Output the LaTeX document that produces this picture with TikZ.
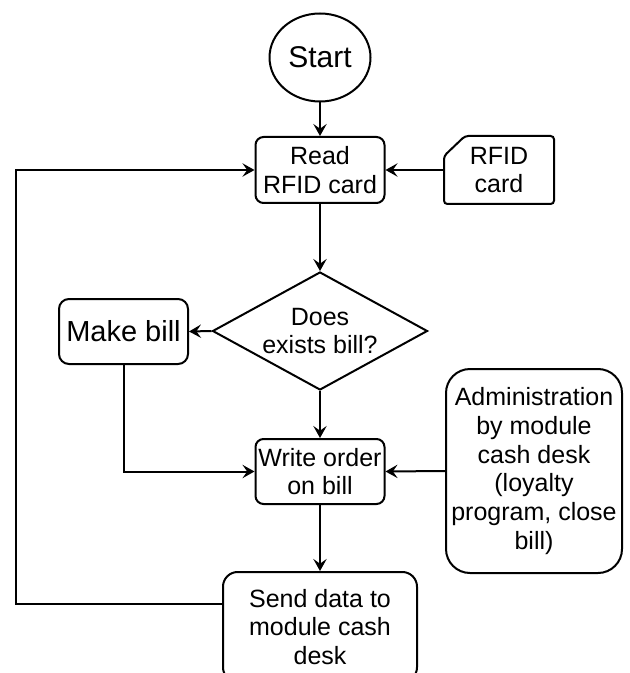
\documentclass[tikz,border=0pt]{standalone}
\usepackage{fontspec}
\setmainfont{Liberation Sans}
\usetikzlibrary{shapes.geometric,arrows.meta}

\tikzset{
  flow/.style={draw, line width=1.5pt, align=center, inner sep=0pt,
    font=\fontsize{18.75pt}{21.5pt}\selectfont},
  procbox/.style={flow, rectangle, rounded corners=6pt},
  arr/.style={line width=1.5pt, -{Stealth[length=9pt,width=10pt,inset=3.5pt]}},
}

\begin{document}
\begin{tikzpicture}[x=0.75pt,y=0.75pt,yscale=-1,xscale=1]
        \useasboundingbox (0,0) rectangle (629,673);

        %Shape: Ellipse [id:start]
        \node (start) at (320,57.5) [flow, ellipse, minimum width=75.75pt, minimum height=66pt, font=\fontsize{22.5pt}{25pt}\selectfont] {Start};
        %Shape: Rectangle [id:read]
        \node (read) at (320,170) [procbox, minimum width=96.75pt, minimum height=49.5pt] {Read\\RFID card};
        %Shape: Card [id:card]
        \node (card) at (499,170) [flow, draw=none, minimum width=81pt, minimum height=49.5pt] {RFID\\card};
        \draw [line width=1.5pt, rounded corners=2.5pt] ([yshift=15pt]card.north west) -- ([xshift=15.75pt]card.north west) -- (card.north east) -- (card.south east) -- (card.south west) -- cycle ;
        %Shape: Diamond [id:exists]
        \node (exists) at (320,331) [flow, diamond, aspect=1.82, minimum width=161.25pt, minimum height=88.5pt] {Does\\exists bill?};
        %Shape: Rectangle [id:make]
        \node (make) at (123.5,331.5) [procbox, rounded corners=7.5pt, minimum width=96.75pt, minimum height=48.75pt, font=\fontsize{21.75pt}{25pt}\selectfont] {Make bill};
        %Shape: Rectangle [id:write]
        \node (write) at (320,471.5) [procbox, minimum width=96.75pt, minimum height=48.75pt] {Write order\\on bill};
        %Shape: Rectangle [id:admin]
        \node (admin) at (534,471) [procbox, rounded corners=18pt, minimum width=132pt, minimum height=153pt] {Administration\\by module\\cash desk\\(loyalty\\program, close\\bill)};
        %Shape: Rectangle [id:send]
        \node (send) at (320,627) [procbox, rounded corners=11pt, minimum width=145.5pt, minimum height=82.5pt] {Send data to\\module cash\\desk};

        %Straight Lines
        \draw [arr] (start) -- (read) ;
        \draw [arr] (card.west) -- (read.east) ;
        \draw [arr] (read) -- (exists) ;
        \draw [arr] (exists.west) -- (make.east) ;
        \draw [arr] (exists) -- (write) ;
        \draw [arr] (make.south) |- (write.west) ;
        \draw [arr] (admin.west) -- (write.east) ;
        \draw [arr] (write) -- (send) ;
        %Loop back
        \coordinate (back) at (16,604);
        \draw [arr] (back -| send.west) -- (back) |- (read.west) ;

\end{tikzpicture}
\end{document}
